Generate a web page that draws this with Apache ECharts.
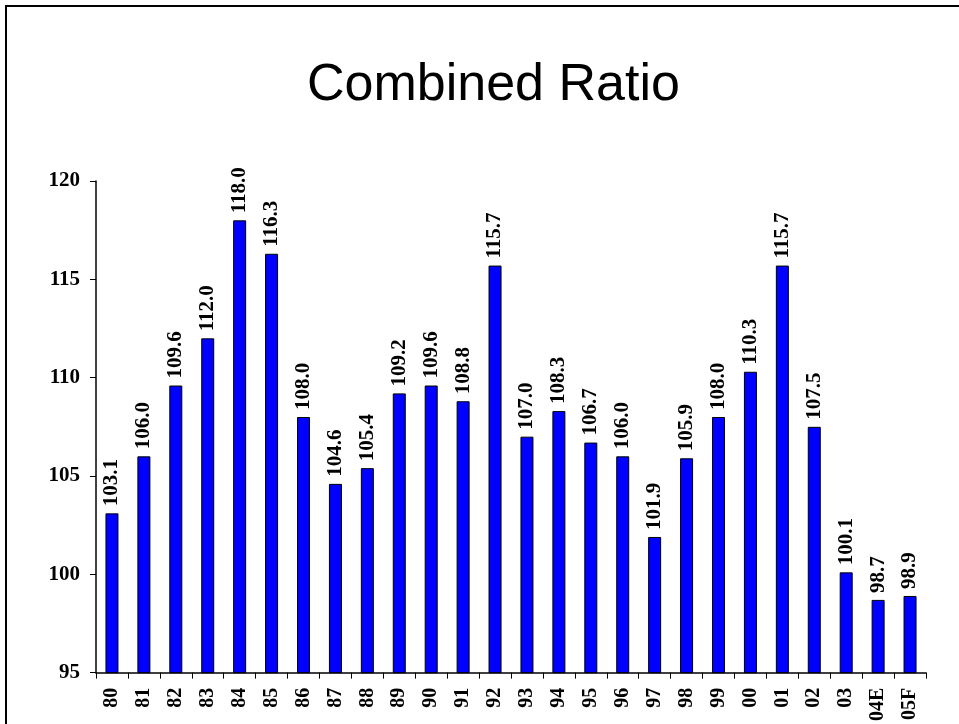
<!DOCTYPE html>
<html>
<head>
<meta charset="utf-8">
<title>Combined Ratio</title>
<script src="https://cdn.jsdelivr.net/npm/echarts@6/dist/echarts.min.js"></script>
<style>
  html, body { margin: 0; padding: 0; background: #fff; }
  #chart { width: 959px; height: 724px; }
</style>
</head>
<body>
<div id="chart"></div>
<script>
// Years (E = estimate, F = forecast)
const years = ['80','81','82','83','84','85','86','87','88','89','90','91','92','93','94','95','96','97','98','99','00','01','02','03','04E','05F'];
// Combined ratio per year
const ratios = [103.1,106.0,109.6,112.0,118.0,116.3,108.0,104.6,105.4,109.2,109.6,108.8,115.7,107.0,108.3,106.7,106.0,101.9,105.9,108.0,110.3,115.7,107.5,100.1,98.7,98.9];
// Value axis range
const yMin = 95, yMax = 120, yStep = 5;

const serif = '"Liberation Serif", "Times New Roman", serif';

const chart = echarts.init(document.getElementById('chart'), null, { renderer: 'canvas' });
chart.setOption({
  backgroundColor: '#ffffff',
  animation: false,
  title: {
    text: 'Combined Ratio',
    left: 302,
    top: 55,
    textStyle: {
      fontFamily: '"Liberation Sans", Arial, sans-serif',
      fontSize: 52,
      fontWeight: 'normal',
      color: '#000'
    }
  },
  graphic: [{
    type: 'rect',
    shape: { x: 6, y: 6, width: 1200, height: 1200 },
    style: { fill: 'none', stroke: '#000', lineWidth: 2 },
    silent: true
  }],
  grid: { left: 96, top: 181, width: 830, height: 492 },
  xAxis: {
    type: 'category',
    data: years,
    axisLine: { lineStyle: { color: '#000', width: 1.5 } },
    axisTick: { show: true, length: 6, lineStyle: { color: '#000', width: 1 } },
    axisLabel: {
      rotate: 90,
      margin: 15,
      color: '#000',
      fontFamily: serif,
      fontWeight: 'bold',
      fontSize: 20
    }
  },
  yAxis: {
    type: 'value',
    min: yMin,
    max: yMax,
    interval: yStep,
    splitLine: { show: false },
    axisLine: { show: true, lineStyle: { color: '#000', width: 1.5 } },
    axisTick: { show: true, length: 6, lineStyle: { color: '#000', width: 1 } },
    axisLabel: {
      margin: 16,
      color: '#000',
      fontFamily: serif,
      fontWeight: 'bold',
      fontSize: 21
    }
  },
  series: [{
    type: 'bar',
    data: ratios,
    barWidth: 13,
    itemStyle: { color: '#0000ff', borderColor: '#000', borderWidth: 1 },
    label: {
      show: true,
      position: 'top',
      rotate: 90,
      align: 'left',
      verticalAlign: 'middle',
      distance: 7,
      color: '#000',
      fontFamily: serif,
      fontWeight: 'bold',
      fontSize: 21,
      formatter: p => p.value.toFixed(1)
    }
  }]
});
</script>
</body>
</html>
